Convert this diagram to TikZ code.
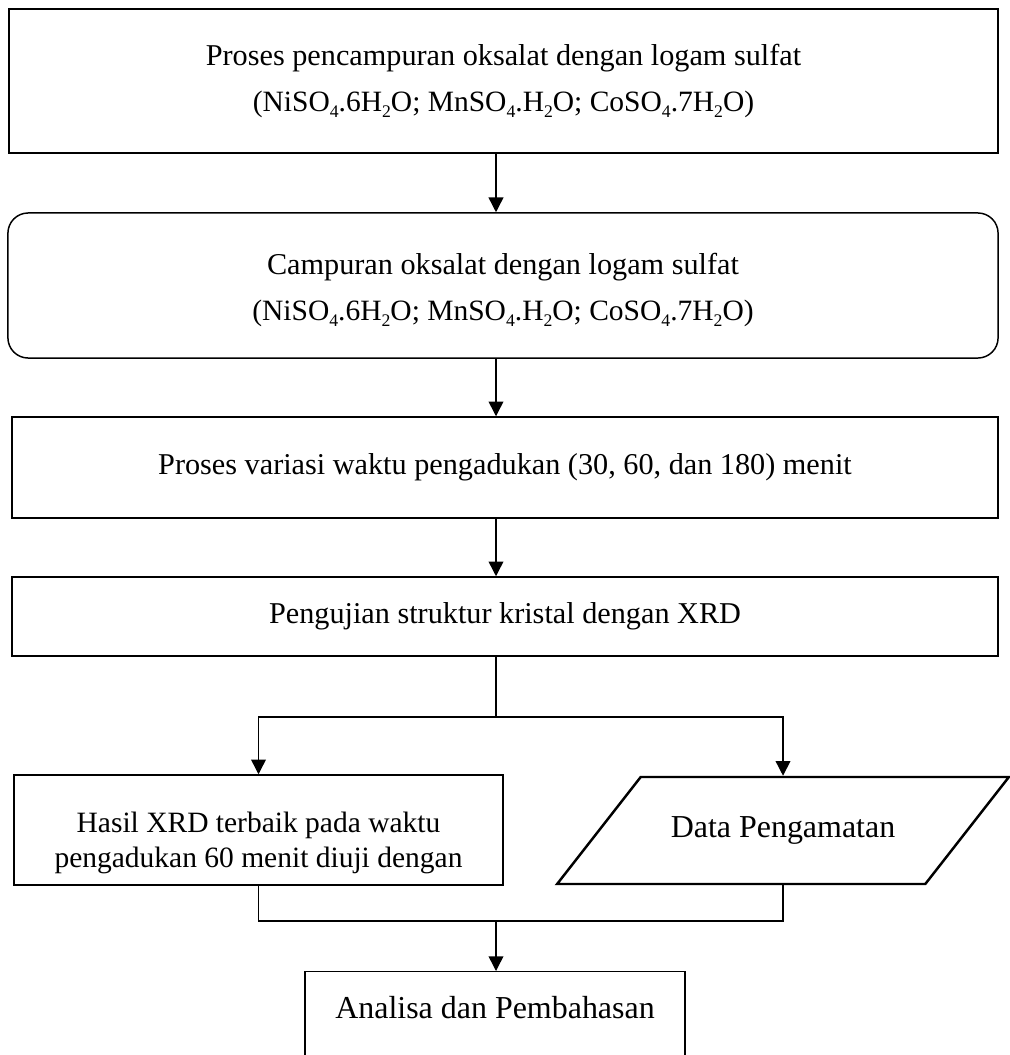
\documentclass[tikz,border=0pt]{standalone}
\usepackage{fontspec}
\setmainfont{Liberation Serif}
\usetikzlibrary{positioning,arrows.meta,shapes.geometric}
\newcommand{\subidx}[1]{\raisebox{-0.4ex}{\fontsize{7.2}{7.2}\selectfont#1}}
\newcommand{\sulfat}{{\fontsize{12}{19}\selectfont(NiSO\subidx{4}.6H\subidx{2}O; MnSO\subidx{4}.H\subidx{2}O; CoSO\subidx{4}.7H\subidx{2}O)}}

\begin{document}
\begin{tikzpicture}[x=0.0143cm,y=-0.0143cm,
  box/.style={draw,line width=0.6pt,align=center,font=\fontsize{12.3}{19}\selectfont},
  arr/.style={-{Triangle[length=6pt,width=6pt]},line width=0.6pt}]
  \useasboundingbox (0,0) rectangle (1009,1055);
  \node[box,minimum width=14.143cm,minimum height=2.059cm] (proses) at (503.5,81)
    {Proses pencampuran oksalat dengan logam sulfat\\\sulfat};
  \node[box,rounded corners=0.29cm,minimum width=14.157cm,minimum height=2.074cm] (campuran) at (503,285.5)
    {\rule{0pt}{12.3pt}Campuran oksalat dengan logam sulfat\\\sulfat};
  \node[box,minimum width=14.1cm,minimum height=1.444cm] (variasi) at (505,467.5)
    {Proses variasi waktu pengadukan (30, 60, dan 180) menit};
  \node[box,minimum width=14.1cm,minimum height=1.13cm] (uji) at (505,616.5)
    {Pengujian struktur kristal dengan XRD};
  \node[box,font=\fontsize{12}{14.2}\selectfont,minimum width=6.993cm,minimum height=1.573cm] (hasil) at (258.5,830)
    {\rule{0pt}{18.7pt}Hasil XRD terbaik pada waktu\\pengadukan 60 menit diuji dengan};
  \node[box,trapezium,trapezium left angle=32,trapezium right angle=148,trapezium stretches=true,
    line width=1pt,font=\fontsize{13}{15}\selectfont,minimum width=6.464cm,minimum height=1.53cm] (data) at (783,830.5)
    {Data Pengamatan};
  \node[box,anchor=north,font=\fontsize{13}{15}\selectfont,minimum width=5.434cm,inner ysep=4pt,
    text height=14.9pt,text depth=26pt] (analisa) at (495,971) {Analisa dan Pembahasan};

  \coordinate (pusat) at (496,0);
  \coordinate (cabang) at (496,717);
  \coordinate (gabung) at (496,921);
  \draw[arr] (proses.south -| pusat) -- (campuran.north -| pusat);
  \draw[arr] (campuran.south -| pusat) -- (variasi.north -| pusat);
  \draw[arr] (variasi.south -| pusat) -- (uji.north -| pusat);
  \draw[line width=0.6pt] (uji.south -| pusat) -- (cabang);
  \draw[arr] (cabang) -| (hasil.north);
  \draw[arr] (cabang) -| (data.north);
  \draw[line width=0.6pt] (hasil.south) |- (gabung) -| (data.south);
  \draw[arr] (gabung) -- (analisa.north -| gabung);
\end{tikzpicture}
\end{document}
